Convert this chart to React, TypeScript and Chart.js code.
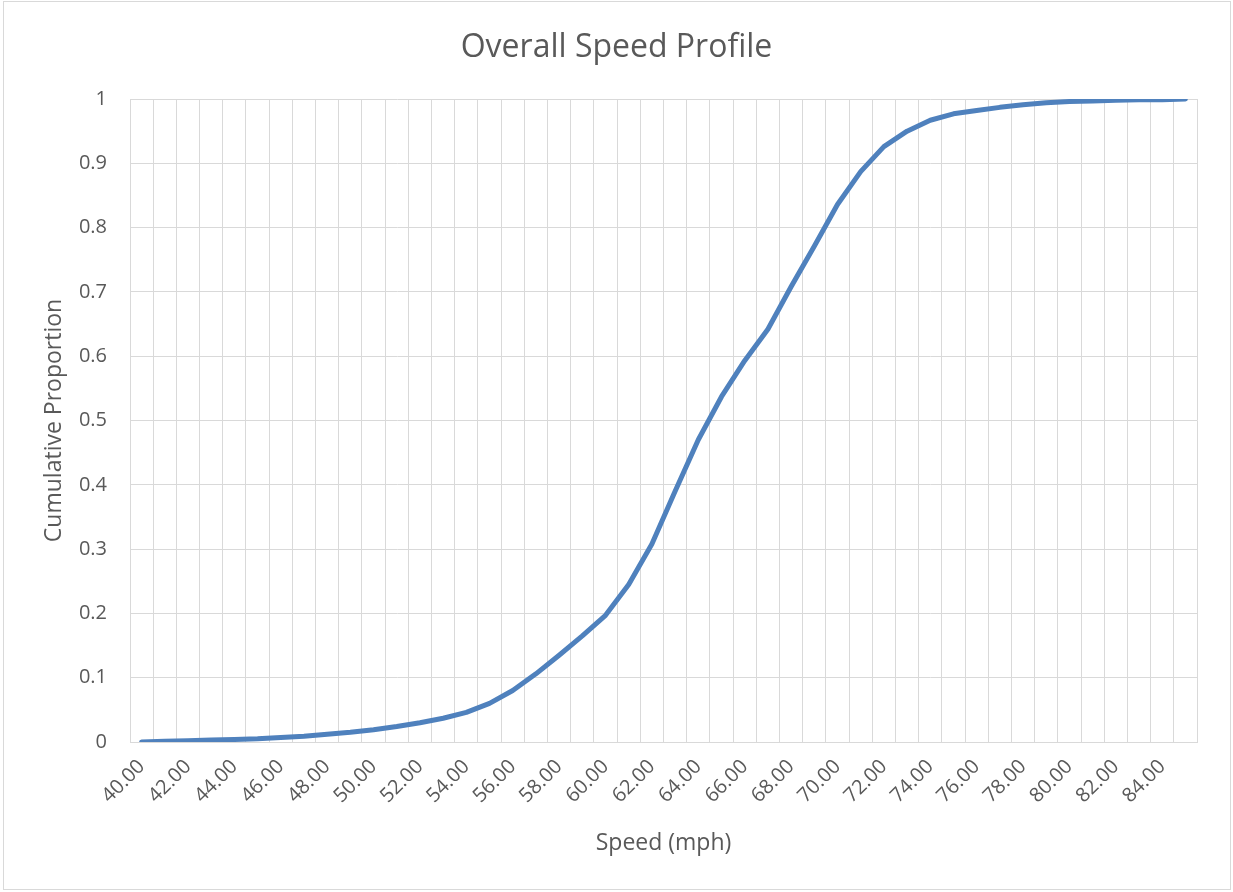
import React, { useEffect, useRef } from "react";
import { Chart, registerables } from "chart.js";

Chart.register(...registerables);

const chartTitle = "Overall Speed Profile";
const xAxisTitle = "Speed (mph)";
const yAxisTitle = "Cumulative Proportion";

const speeds = [
  40, 41, 42, 43, 44, 45, 46, 47, 48, 49, 50, 51, 52, 53, 54, 55, 56, 57, 58, 59, 60, 61, 62,
  63, 64, 65, 66, 67, 68, 69, 70, 71, 72, 73, 74, 75, 76, 77, 78, 79, 80, 81, 82, 83, 84, 85,
];

const cumulativeProportion = [
  0.0, 0.001, 0.002, 0.003, 0.004, 0.005, 0.007, 0.009, 0.012, 0.015, 0.019, 0.024, 0.03,
  0.037, 0.046, 0.06, 0.08, 0.106, 0.135, 0.165, 0.197, 0.245, 0.308, 0.39, 0.47, 0.537,
  0.593, 0.642, 0.708, 0.771, 0.836, 0.887, 0.926, 0.95, 0.967, 0.977, 0.982, 0.987, 0.991,
  0.994, 0.996, 0.997, 0.998, 0.999, 0.999, 1.0,
];

const xTickLabels = [
  "40.00", "42.00", "44.00", "46.00", "48.00", "50.00", "52.00", "54.00", "56.00", "58.00",
  "60.00", "62.00", "64.00", "66.00", "68.00", "70.00", "72.00", "74.00", "76.00", "78.00",
  "80.00", "82.00", "84.00",
];

const yMin = 0;
const yMax = 1;
const yStep = 0.1;

const W = 1233;
const H = 892;
const TEXT = "#595959";
const GRID = "#d9d9d9";
const FONT = "'Open Sans', 'Noto Sans', sans-serif";

const decorPlugin = {
  id: "decor",
  beforeDraw(chart: any) {
    const ctx = chart.ctx;
    ctx.save();
    ctx.fillStyle = "#ffffff";
    ctx.fillRect(0, 0, chart.width, chart.height);
    ctx.strokeStyle = GRID;
    ctx.lineWidth = 1;
    ctx.strokeRect(3.5, 1.5, 1227, 888);
    ctx.fillStyle = TEXT;
    ctx.font = `32px ${FONT}`;
    ctx.textAlign = "center";
    ctx.textBaseline = "alphabetic";
    ctx.fillText(chartTitle, W / 2, 57);
    ctx.restore();
  },
};

export default function App() {
  const ref = useRef<HTMLCanvasElement | null>(null);

  useEffect(() => {
    if (!ref.current) return;
    const labels = speeds.map((s) => s.toFixed(2));
    const chart = new Chart(ref.current, {
      type: "line",
      data: {
        labels,
        datasets: [
          {
            label: yAxisTitle,
            data: cumulativeProportion,
            borderColor: "#4f81bd",
            backgroundColor: "#4f81bd",
            borderWidth: 5,
            pointRadius: 0,
            pointHoverRadius: 0,
            tension: 0,
            fill: false,
            borderCapStyle: "round",
            borderJoinStyle: "round",
          },
        ],
      },
      options: {
        animation: false,
        responsive: false,
        maintainAspectRatio: false,
        devicePixelRatio: 1,
        layout: { padding: { top: 99, right: 36, bottom: 0, left: 0 } },
        plugins: {
          legend: { display: false },
          title: { display: false },
          tooltip: { enabled: false },
        },
        scales: {
          x: {
            type: "category",
            offset: true,
            grid: { offset: true, color: GRID, lineWidth: 1, drawTicks: false },
            border: { display: true, color: GRID, width: 1 },
            ticks: {
              autoSkip: false,
              maxRotation: 45,
              minRotation: 45,
              padding: 13,
              color: TEXT,
              font: { family: FONT, size: 20 },
              callback: (_v: any, i: number) => {
                const lbl = speeds[i].toFixed(2);
                return xTickLabels.includes(lbl) ? lbl : "";
              },
            },
            title: {
              display: true,
              text: xAxisTitle,
              color: TEXT,
              font: { family: FONT, size: 23 },
              padding: { top: 0, bottom: 35 },
            },
            afterFit: (scale: any) => {
              scale.height = 150;
            },
          },
          y: {
            min: yMin,
            max: yMax,
            grid: { color: GRID, lineWidth: 1, drawTicks: false },
            border: { display: true, color: GRID, width: 1 },
            ticks: {
              stepSize: yStep,
              padding: 23,
              color: TEXT,
              font: { family: FONT, size: 20 },
              callback: (v: any) => Number(Number(v).toFixed(1)).toString(),
            },
            title: {
              display: true,
              text: yAxisTitle,
              color: TEXT,
              font: { family: FONT, size: 23 },
              padding: { top: 41, bottom: 0 },
            },
            afterFit: (scale: any) => {
              scale.width = 130;
            },
          },
        },
      },
      plugins: [decorPlugin],
    });
    return () => chart.destroy();
  }, []);

  return (
    <div style={{ position: "absolute", left: 0, top: 0, width: W, height: H, background: "#fff" }}>
      <canvas ref={ref} width={W} height={H} style={{ width: W, height: H, display: "block" }} />
    </div>
  );
}
